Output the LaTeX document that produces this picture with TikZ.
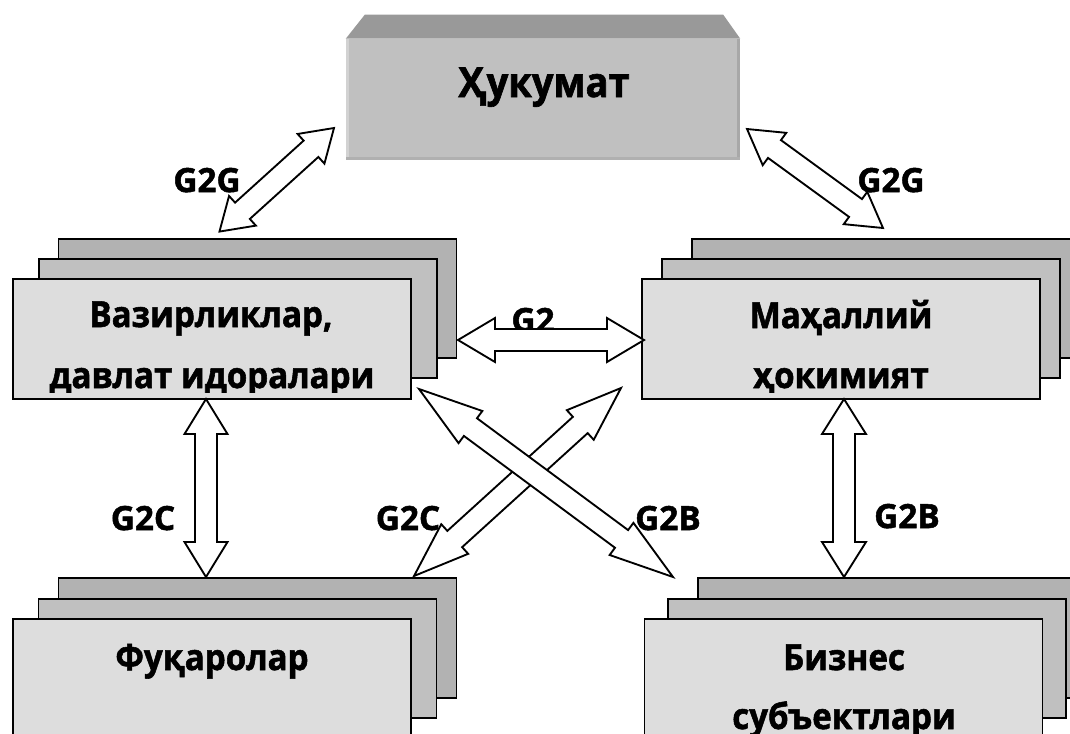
\documentclass[tikz,border=0pt]{standalone}
\usepackage{fontspec}
\setmainfont{Open Sans}
\newfontfamily\boxfont{Open Sans}[FakeStretch=0.92, BoldFeatures={FakeBold=1.5}]
\newfontfamily\lblfont{Open Sans}[BoldFeatures={FakeBold=1.5}]
\usetikzlibrary{calc}
\definecolor{frontgray}{HTML}{DDDDDD}
\definecolor{midgray}{HTML}{C0C0C0}
\definecolor{backgray}{HTML}{B2B2B2}
\definecolor{hukface}{HTML}{C0C0C0}
\definecolor{huktop}{HTML}{999999}
\definecolor{hukleft}{HTML}{D2D2D2}
\definecolor{hukright}{HTML}{A8A8A8}
\definecolor{hukbot}{HTML}{B0B0B0}
\newcommand\hollowdbl[4]{%
  \pgfmathanglebetweenpoints{\pgfpointanchor{#1}{center}}{\pgfpointanchor{#2}{center}}%
  \edef\hdAng{\pgfmathresult}%
  \pgfpointdiff{\pgfpointanchor{#1}{center}}{\pgfpointanchor{#2}{center}}%
  \pgfgetlastxy{\hdX}{\hdY}%
  \pgfmathsetmacro\hdL{veclen(\hdX,\hdY)}%
  \pgfmathsetmacro\hdH{#3*0.75}%
  \pgfmathsetmacro\hdM{\hdL-\hdH}%
  \pgfmathsetmacro\hdW{#4*0.75}%
  \begin{scope}[shift={(#1)},rotate=\hdAng]
    \filldraw[arrowstyle] (0pt,0pt) -- (\hdH pt,\hdW pt) -- (\hdH pt,8.25pt) -- (\hdM pt,8.25pt) -- (\hdM pt,\hdW pt) -- (\hdL pt,0pt) -- (\hdM pt,-\hdW pt) -- (\hdM pt,-8.25pt) -- (\hdH pt,-8.25pt) -- (\hdH pt,-\hdW pt) -- cycle;
  \end{scope}}
\begin{document}
\begin{tikzpicture}[x=0.75pt,y=-0.75pt,
  box/.style={draw=black, line width=1.4pt, rectangle, inner sep=0pt, minimum width=298.5pt, minimum height=89.5pt},
  boxtxt/.style={font=\boxfont\fontsize{27}{33}\selectfont\bfseries, anchor=base, inner sep=0pt},
  lbl/.style={font=\lblfont\fontsize{25}{30}\selectfont\bfseries, anchor=base, inner sep=0pt},
  arrowstyle/.style={draw=black, fill=white, line width=1.4pt, line join=miter}]
\useasboundingbox (0,0) rectangle (1070,733);
\clip (0,0) rectangle (1070,733);
% Hukumat
\node[fill=hukface, minimum width=295.5pt, minimum height=90.75pt, inner sep=0pt] (huk) at (543,99.5) {};
\fill[huktop] (huk.north west) -- ++(19,-24) -- ($(huk.north east)+(-17,-24)$) -- (huk.north east) -- cycle;
\fill[hukleft] (huk.north west) rectangle ($(huk.south west)+(3,0)$);
\fill[hukright] ($(huk.north east)+(-3,0)$) rectangle (huk.south east);
\fill[hukbot] ($(huk.south west)+(0,-3)$) rectangle (huk.south east);
\node[boxtxt, font=\boxfont\fontsize{31}{37}\selectfont\bfseries] (hukt) at (544,97) {Ҳукумат};
% Vazirliklar
\node[box, fill=backgray] (vazC) at (257.5,298.5) {};
\node[box, fill=midgray] (vazB) at (238,318.5) {};
\node[box, fill=frontgray] (vazA) at (212,339) {};
\begin{scope}
\clip (12,279) rectangle (412,392);
\node[boxtxt] (vazt1) at (211,327) {Вазирликлар,};
\node[boxtxt] (vazt2) at (212,388) {давлат идоралари};
\end{scope}
% Mahalliy
\node[box, fill=backgray] (mahC) at (891,298.5) {};
\node[box, fill=midgray] (mahB) at (861,318.5) {};
\node[box, fill=frontgray] (mahA) at (841,339) {};
\begin{scope}
\clip (641,279) rectangle (1041,392);
\node[boxtxt] (maht1) at (841,328) {Маҳаллий};
\node[boxtxt] (maht2) at (841,388) {ҳокимият};
\end{scope}
% Fuqarolar
\node[box, fill=backgray] (fuqC) at (257.5,638) {};
\node[box, fill=midgray] (fuqB) at (237.5,658.5) {};
\node[box, fill=frontgray] (fuqA) at (212,679) {};
\node[boxtxt] (fuqt) at (212,670) {Фуқаролар};
% Biznes
\node[box, fill=backgray] (bizC) at (897,638) {};
\node[box, fill=midgray] (bizB) at (867,658.5) {};
\node[box, fill=frontgray] (bizA) at (843.5,679) {};
\node[boxtxt] (bizt1) at (844,670) {Бизнес};
\node[boxtxt] (bizt2) at (844,729) {субъектлари};
% labels
\node[lbl] (l1) at (207,192) {G2G};
\node[lbl] (l2) at (891,192) {G2G};
\node[lbl] (l3) at (533,332) {G2};
\node[lbl] (l4) at (143,530) {G2C};
\node[lbl] (l5) at (408,530) {G2C};
\node[lbl] (l6) at (668,530) {G2B};
\node[lbl] (l7) at (907,528) {G2B};
% arrow end points
\coordinate (a1s) at (334,128); \coordinate (a1e) at (219,232);
\coordinate (a2s) at (747,129); \coordinate (a2e) at (883,228);
\coordinate (a3s) at (458,340); \coordinate (a3e) at (644,340);
\coordinate (a4s) at (206,399); \coordinate (a4e) at (206,577);
\coordinate (a5s) at (844,399); \coordinate (a5e) at (844,577);
\coordinate (a6s) at (621,388); \coordinate (a6e) at (414,576);
\coordinate (a7s) at (419,389); \coordinate (a7e) at (673,577);
\hollowdbl{a1s}{a1e}{31}{20}
\hollowdbl{a2s}{a2e}{34}{20}
\hollowdbl{a3s}{a3e}{37}{22}
\hollowdbl{a4s}{a4e}{35}{21.5}
\hollowdbl{a5s}{a5e}{35}{22}
\hollowdbl{a6s}{a6e}{55}{20}
\hollowdbl{a7s}{a7e}{64}{20}
\end{tikzpicture}
\end{document}
